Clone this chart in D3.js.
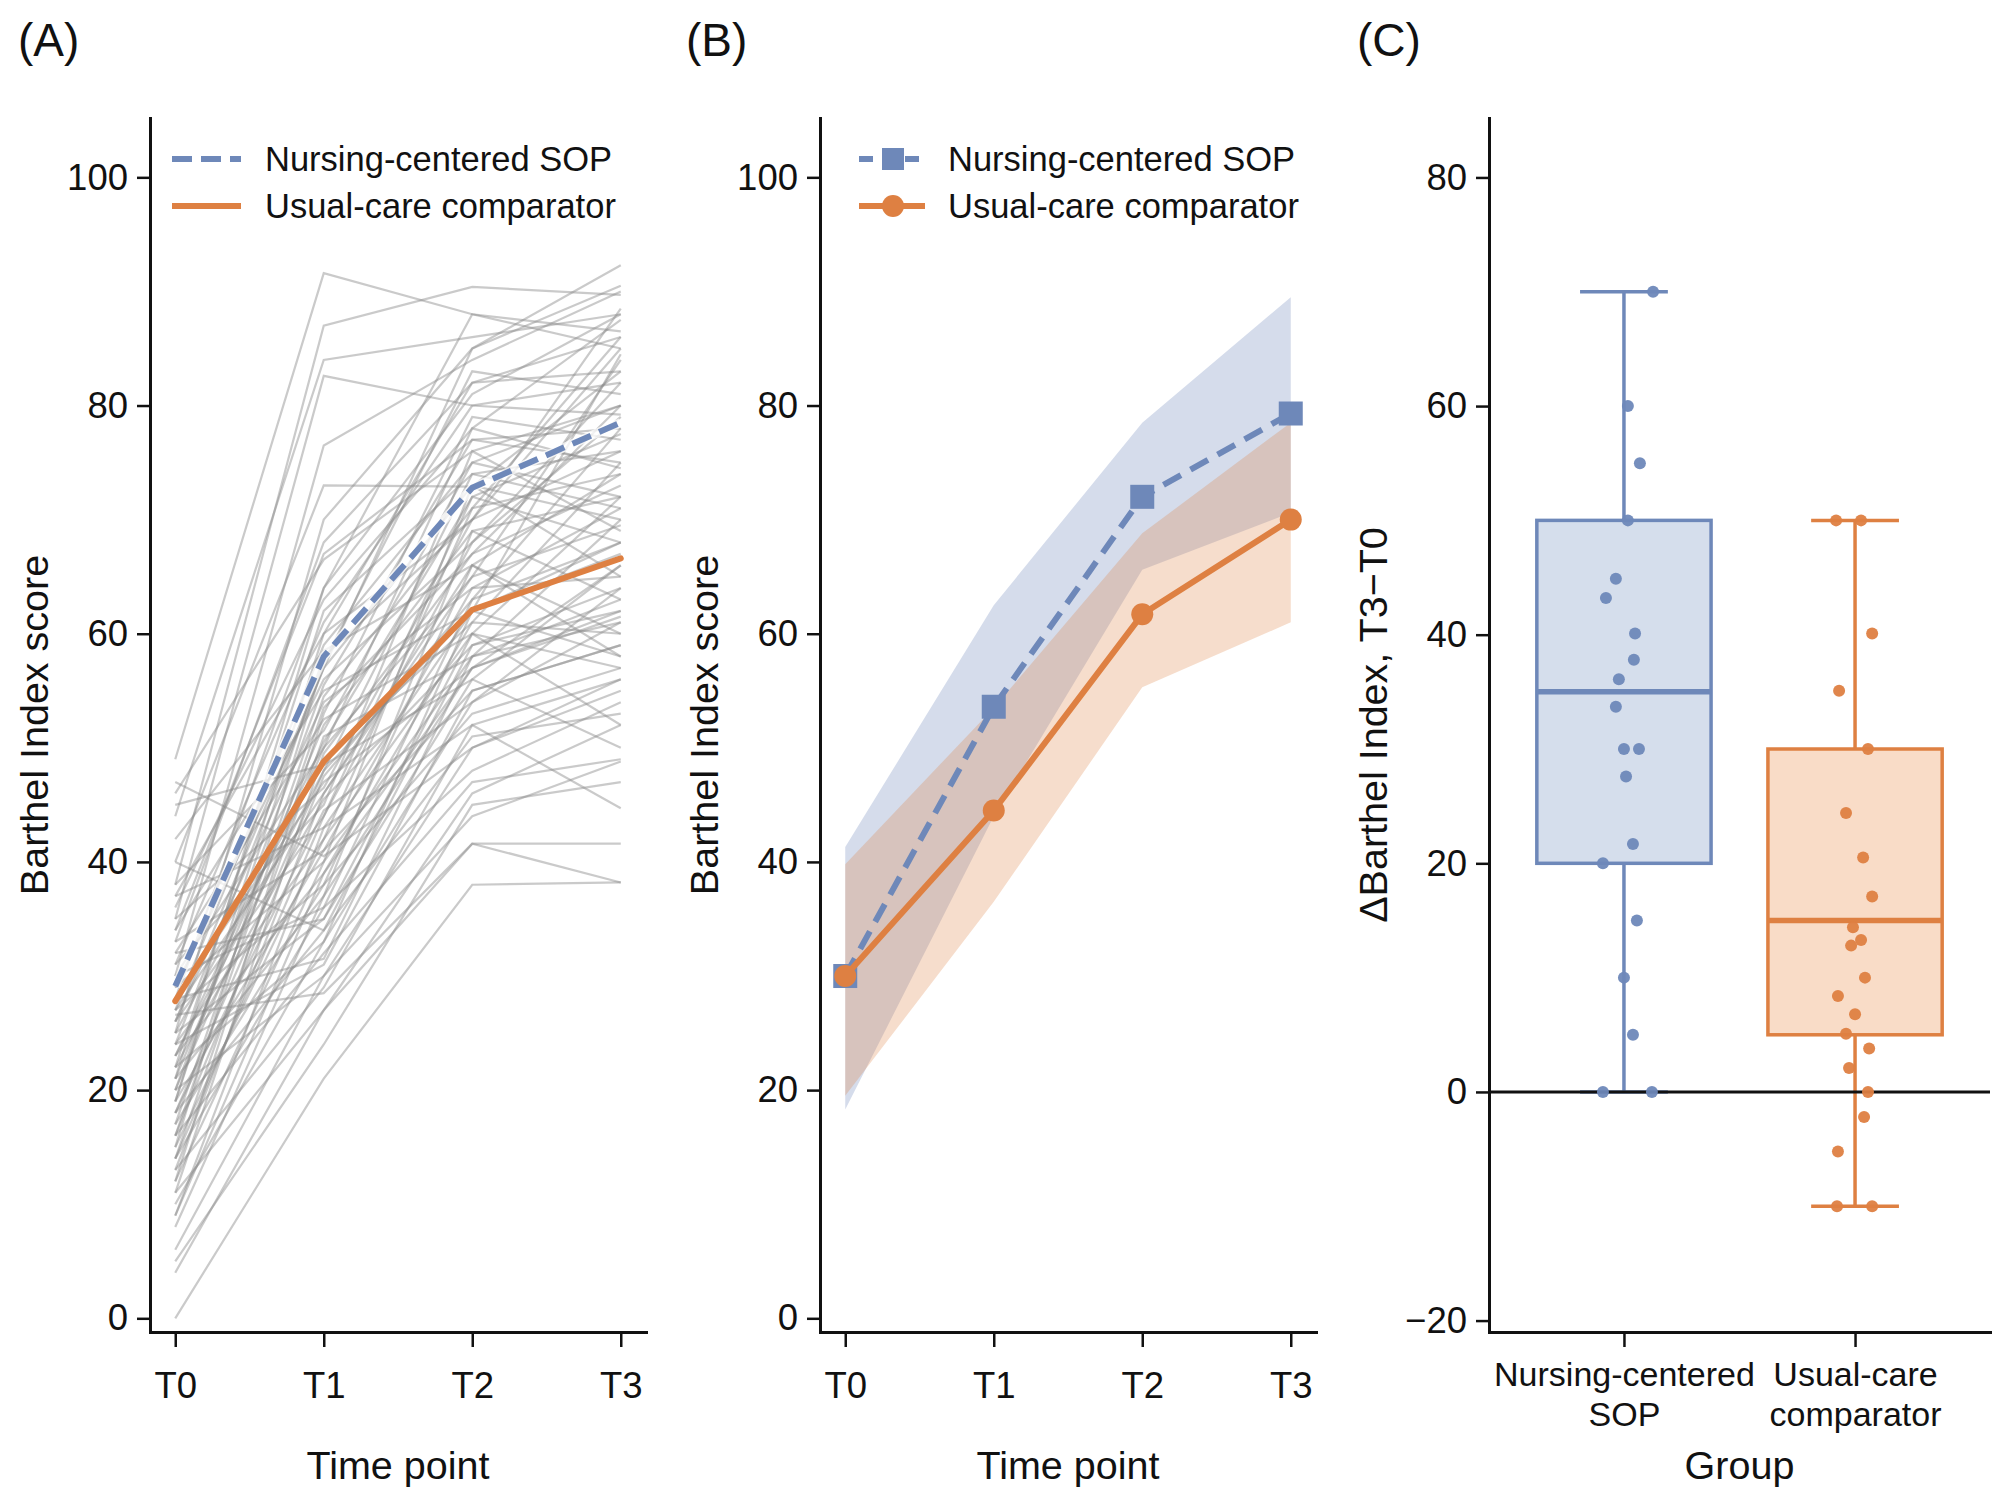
<!DOCTYPE html>
<html>
<head>
<meta charset="utf-8">
<script src="https://cdn.jsdelivr.net/npm/d3@7"></script>
<style>
    body { margin: 0; background: #ffffff; }
    text { font-family: "Liberation Sans", Arial, Helvetica, sans-serif; fill: #111111; }
</style>
</head>
<body>
<svg id="figure" width="2000" height="1493"></svg>
<script>
// ---------- data ----------
const timePoints = ["T0", "T1", "T2", "T3"];
const scoreTicks = [0, 20, 40, 60, 80, 100];
const deltaTicks = [-20, 0, 20, 40, 60, 80];

// Panel A: individual trajectories [T0, T1, T2, T3]
const individualScores = [
    [49, 91.6, 88.0, 86.5], [38, 87.0, 90.4, 89.7], [44, 84.0, 86.0, 88.0],
    [35, 82.6, 80.0, 79.2], [30, 76.5, 84.0, 90.0], [40, 73.0, 72.9, 83.0],
    [25, 70.0, 85.0, 92.3], [33, 68.0, 82.0, 86.0], [46, 66.5, 76.0, 80.0],
    [28, 64.0, 88.0, 85.0], [36, 63.0, 78.0, 87.5], [22, 62.0, 74.0, 76.0],
    [31, 61.0, 80.0, 82.0], [19, 60.0, 70.0, 88.5], [27, 59.0, 75.0, 72.0],
    [42, 58.5, 66.0, 74.0], [15, 57.5, 83.0, 81.0], [24, 57.0, 73.0, 70.0],
    [29, 56.0, 68.0, 79.0], [20, 55.5, 77.0, 75.0], [34, 55.0, 62.0, 68.0],
    [17, 54.5, 71.0, 86.0], [26, 54.0, 64.0, 65.0], [12, 53.0, 79.0, 77.0],
    [32, 52.5, 60.0, 72.0], [21, 52.0, 69.0, 63.0], [38, 51.5, 75.0, 80.0],
    [14, 51.0, 58.0, 70.0], [23, 50.5, 72.0, 68.0], [30, 50.0, 65.0, 84.0],
    [11, 49.5, 67.0, 73.0], [25, 49.0, 61.0, 60.0], [45, 48.5, 56.0, 66.0],
    [18, 48.0, 74.0, 71.0], [16, 47.5, 63.0, 78.0], [28, 47.0, 57.0, 62.0],
    [35, 46.5, 70.0, 76.0], [13, 46.0, 66.0, 58.0], [22, 45.5, 59.0, 64.0],
    [31, 45.0, 76.0, 69.0], [18, 44.5, 54.0, 61.0], [26, 44.0, 68.0, 82.0],
    [9, 43.0, 62.0, 67.0], [37, 43.0, 52.0, 56.0], [24, 42.0, 71.0, 74.0],
    [15, 42.0, 60.0, 52.0], [33, 41.0, 64.0, 71.0], [19, 41.0, 55.0, 59.0],
    [29, 40.0, 73.0, 65.0], [12, 40.0, 58.0, 63.0], [47, 40.5, 50.0, 55.0],
    [23, 39.0, 61.0, 75.0], [17, 38.0, 66.0, 60.0], [27, 38.0, 53.0, 57.0],
    [8, 37.0, 57.0, 66.0], [21, 37.0, 69.0, 72.0], [30, 36.0, 48.0, 54.0],
    [14, 36.0, 63.0, 68.0], [25, 35.0, 56.0, 50.0], [18, 34.0, 59.0, 62.0],
    [40, 34.0, 51.0, 53.0], [10, 33.0, 54.0, 64.0], [22, 33.0, 62.0, 58.0],
    [16, 32.0, 47.0, 49.0], [28, 31.5, 58.0, 61.0], [6, 30.0, 50.0, 56.0],
    [20, 30.0, 44.0, 48.8], [13, 29.0, 52.0, 44.7], [26.6, 28.5, 41.6, 41.6],
    [4, 27.0, 41.6, 38.2], [0, 21.0, 38.0, 38.2], [5, 24.0, 45.0, 47.0],
    [11, 27.0, 46.0, 52.0], [24, 31.0, 55.0, 59.0], [32, 35.0, 60.0, 57.0],
    [26, 57.0, 85.0, 90.5], [21, 64.0, 81.0, 88.0], [34, 67.0, 77.0, 78.0],
    [37, 60.0, 82.0, 83.0], [19, 58.0, 70.0, 85.0], [16, 53.5, 67.0, 80.0],
    [20, 50.0, 78.0, 74.5], [27, 46.0, 65.0, 69.5], [14, 44.0, 72.0, 77.5],
    [23, 48.0, 62.0, 84.5], [9, 39.0, 57.0, 61.5]
];
const sopTrendA = [29.1, 58.0, 72.8, 78.5];
const usualTrendA = [27.8, 48.8, 62.1, 66.6];

// Panel B: group means with shaded bands
const sopMean = [30.0, 53.6, 72.0, 79.3];
const sopLow = [18.3, 44.0, 65.6, 70.6];
const sopHigh = [41.3, 62.5, 78.5, 89.5];
const usualMean = [30.0, 44.5, 61.7, 70.0];
const usualLow = [19.5, 36.5, 55.3, 61.0];
const usualHigh = [39.8, 53.5, 68.8, 78.5];

// Panel C: change scores, jitter offsets (in category units) and box summaries
const groupNames = ["Nursing-centered SOP", "Usual-care comparator"];
const groupLabels = [["Nursing-centered", "SOP"], ["Usual-care", "comparator"]];
const sopDelta = [70, 60, 55, 50, 44.9, 43.2, 40.1, 37.8, 36.1, 33.7,
    30, 30, 27.6, 21.7, 20, 15, 10, 5, 0, 0];
const sopJitter = [0.126, 0.017, 0.069, 0.017, -0.035, -0.078, 0.048, 0.043, -0.022, -0.035,
    0, 0.065, 0.009, 0.039, -0.091, 0.056, 0, 0.039, -0.091, 0.121];
const usualDelta = [50, 50, 40.1, 35.1, 30, 24.4, 20.5, 17.1, 14.4, 13.3, 12.8,
    10, 8.4, 6.8, 5.1, 3.8, 2.1, 0, -2.2, -5.2, -10, -10];
const usualJitter = [-0.082, 0.026, 0.074, -0.069, 0.056, -0.039, 0.035, 0.074, -0.009, 0.026, -0.017,
    0.043, -0.074, 0, -0.039, 0.061, -0.026, 0.056, 0.039, -0.074, -0.078, 0.074];
const boxLow = [0, -10];
const boxQ1 = [20, 5];
const boxMedian = [35, 15];
const boxQ3 = [50, 30];
const boxHigh = [70, 50];

// ---------- styling ----------
const blue = "#6e88b9";
const orange = "#de8042";
const blueFill = "#d5deec";
const orangeFill = "#f9dcc7";

const plotTop = 118;
const plotBottom = 1332;
const panelLeft = { A: 150, B: 820, C: 1489 };

const svg = d3.select("#figure");
svg.append("rect").attr("width", 2000).attr("height", 1493).attr("fill", "#ffffff");

const yScore = d3.scaleLinear().domain([-1.2, 105.2]).range([plotBottom, plotTop]);
const yDelta = d3.scaleLinear().domain([-21, 85.2]).range([plotBottom, plotTop]);

function timeScale(left) {
    return d3.scaleLinear().domain([-0.17, 3.17]).range([left, left + 496]);
}

// Axes with black spines, outward ticks
function drawAxes(g, x, y, xTicks, xFormat, yTicks) {
    const xAxis = g.append("g")
        .attr("transform", `translate(0,${plotBottom})`)
        .call(d3.axisBottom(x).tickValues(xTicks).tickFormat(xFormat)
            .tickSize(15).tickSizeOuter(0).tickPadding(25));
    const yAxis = g.append("g")
        .attr("transform", `translate(${x.range()[0]},0)`)
        .call(d3.axisLeft(y).tickValues(yTicks).tickSize(13).tickSizeOuter(0).tickPadding(9));

    [xAxis, yAxis].forEach((ax) => {
        ax.select(".domain").attr("stroke", "#111").attr("stroke-width", 3)
            .attr("stroke-linecap", "square");
        ax.selectAll(".tick line").attr("stroke", "#111").attr("stroke-width", 2.5);
        ax.selectAll(".tick text").attr("font-size", 36.5).attr("fill", "#111");
    });
    return xAxis;
}

function axisTitles(g, left, right, xTitle, yTitle) {
    g.append("text")
        .attr("x", (left + right) / 2).attr("y", 1479)
        .attr("text-anchor", "middle").attr("font-size", 39.5)
        .text(xTitle);
    g.append("text")
        .attr("transform", `translate(${left - 102},${(plotTop + plotBottom) / 2}) rotate(-90)`)
        .attr("text-anchor", "middle").attr("font-size", 39.5)
        .text(yTitle);
}

function panelLabel(x, label) {
    svg.append("text").attr("x", x).attr("y", 56).attr("font-size", 46).text(label);
}

// ---------- Panel A: spaghetti plot ----------
{
    const g = svg.append("g").attr("id", "panelA");
    const x = timeScale(panelLeft.A);
    const line = d3.line().x((d, i) => x(i)).y((d) => yScore(d));

    g.append("g").selectAll("path")
        .data(individualScores)
        .enter()
        .append("path")
        .attr("d", line)
        .attr("fill", "none")
        .attr("stroke", "#8a8a8a")
        .attr("stroke-opacity", 0.45)
        .attr("stroke-width", 2.2);

    // Group trend lines
    g.append("path").attr("d", line(sopTrendA))
        .attr("fill", "none").attr("stroke", "#ffffff").attr("stroke-opacity", 0.75)
        .attr("stroke-width", 9);
    g.append("path").attr("d", line(sopTrendA))
        .attr("fill", "none").attr("stroke", blue).attr("stroke-width", 6)
        .attr("stroke-dasharray", "20,9");
    g.append("path").attr("d", line(usualTrendA))
        .attr("fill", "none").attr("stroke", orange).attr("stroke-width", 6)
        .attr("stroke-linecap", "round");

    drawAxes(g, x, yScore, [0, 1, 2, 3], (i) => timePoints[i], scoreTicks);
    axisTitles(g, panelLeft.A, panelLeft.A + 496, "Time point", "Barthel Index score");

    // Legend
    const lx = panelLeft.A;
    const legend = g.append("g");
    legend.append("line").attr("x1", lx + 22).attr("x2", lx + 91).attr("y1", 159).attr("y2", 159)
        .attr("stroke", blue).attr("stroke-width", 6).attr("stroke-dasharray", "20,9");
    legend.append("line").attr("x1", lx + 22).attr("x2", lx + 91).attr("y1", 206).attr("y2", 206)
        .attr("stroke", orange).attr("stroke-width", 6);
    legend.selectAll("text").data(groupNames).enter().append("text")
        .attr("x", lx + 115).attr("y", (d, i) => 159 + i * 47).attr("dy", "0.35em")
        .attr("font-size", 34.5).text((d) => d);
}

// ---------- Panel B: means with bands ----------
{
    const g = svg.append("g").attr("id", "panelB");
    const x = timeScale(panelLeft.B);
    const band = (low, high) => d3.area()
        .x((d, i) => x(i)).y0((d, i) => yScore(low[i])).y1((d, i) => yScore(high[i]))(low);
    const line = d3.line().x((d, i) => x(i)).y((d) => yScore(d));

    g.append("path").attr("d", band(sopLow, sopHigh)).attr("fill", blue).attr("fill-opacity", 0.29);
    g.append("path").attr("d", band(usualLow, usualHigh)).attr("fill", orange).attr("fill-opacity", 0.27);

    g.append("path").attr("d", line(sopMean))
        .attr("fill", "none").attr("stroke", blue).attr("stroke-width", 6)
        .attr("stroke-dasharray", "20,11");
    g.append("g").selectAll("rect").data(sopMean).enter().append("rect")
        .attr("x", (d, i) => x(i) - 12).attr("y", (d) => yScore(d) - 12)
        .attr("width", 24).attr("height", 24).attr("fill", blue);

    g.append("path").attr("d", line(usualMean))
        .attr("fill", "none").attr("stroke", orange).attr("stroke-width", 6);
    g.append("g").selectAll("circle").data(usualMean).enter().append("circle")
        .attr("cx", (d, i) => x(i)).attr("cy", (d) => yScore(d)).attr("r", 11)
        .attr("fill", orange);

    drawAxes(g, x, yScore, [0, 1, 2, 3], (i) => timePoints[i], scoreTicks);
    axisTitles(g, panelLeft.B, panelLeft.B + 496, "Time point", "Barthel Index score");

    // Legend with markers
    const lx = panelLeft.B;
    const legend = g.append("g");
    legend.append("line").attr("x1", lx + 39).attr("x2", lx + 105).attr("y1", 159).attr("y2", 159)
        .attr("stroke", blue).attr("stroke-width", 6).attr("stroke-dasharray", "14,9");
    legend.append("rect").attr("x", lx + 73 - 11).attr("y", 159 - 11).attr("width", 22).attr("height", 22)
        .attr("fill", blue);
    legend.append("line").attr("x1", lx + 39).attr("x2", lx + 105).attr("y1", 206).attr("y2", 206)
        .attr("stroke", orange).attr("stroke-width", 6);
    legend.append("circle").attr("cx", lx + 73).attr("cy", 206).attr("r", 11).attr("fill", orange);
    legend.selectAll("text").data(groupNames).enter().append("text")
        .attr("x", lx + 128).attr("y", (d, i) => 159 + i * 47).attr("dy", "0.35em")
        .attr("font-size", 34.5).text((d) => d);
}

// ---------- Panel C: box plot of change scores ----------
{
    const g = svg.append("g").attr("id", "panelC");
    const x = d3.scaleLinear().domain([-0.584, 1.584]).range([panelLeft.C, 1990]);
    const colors = [blue, orange];
    const fills = [blueFill, orangeFill];
    const halfBox = 0.377;
    const halfCap = 0.19;

    [0, 1].forEach((i) => {
        const bg = g.append("g");
        const cx = x(i);
        const bw = x(i + halfBox) - cx;
        const cw = x(i + halfCap) - cx;
        bg.append("line").attr("x1", cx).attr("x2", cx)
            .attr("y1", yDelta(boxQ3[i])).attr("y2", yDelta(boxHigh[i]))
            .attr("stroke", colors[i]).attr("stroke-width", 3.5);
        bg.append("line").attr("x1", cx).attr("x2", cx)
            .attr("y1", yDelta(boxQ1[i])).attr("y2", yDelta(boxLow[i]))
            .attr("stroke", colors[i]).attr("stroke-width", 3.5);
        [boxHigh[i], boxLow[i]].forEach((v) => {
            bg.append("line").attr("x1", cx - cw).attr("x2", cx + cw)
                .attr("y1", yDelta(v)).attr("y2", yDelta(v))
                .attr("stroke", colors[i]).attr("stroke-width", 3.5);
        });
        bg.append("rect")
            .attr("x", cx - bw).attr("width", 2 * bw)
            .attr("y", yDelta(boxQ3[i])).attr("height", yDelta(boxQ1[i]) - yDelta(boxQ3[i]))
            .attr("fill", fills[i]).attr("stroke", colors[i]).attr("stroke-width", 3.5);
        bg.append("line").attr("x1", cx - bw).attr("x2", cx + bw)
            .attr("y1", yDelta(boxMedian[i])).attr("y2", yDelta(boxMedian[i]))
            .attr("stroke", colors[i]).attr("stroke-width", 5.5);
    });

    // Zero reference line
    g.append("line").attr("x1", panelLeft.C).attr("x2", 1990)
        .attr("y1", yDelta(0)).attr("y2", yDelta(0))
        .attr("stroke", "#111").attr("stroke-width", 3);

    // Jittered individual points
    const points = sopDelta.map((v, k) => ({ g: 0, v, j: sopJitter[k] }))
        .concat(usualDelta.map((v, k) => ({ g: 1, v, j: usualJitter[k] })));
    g.append("g").selectAll("circle").data(points).enter().append("circle")
        .attr("cx", (d) => x(d.g + d.j)).attr("cy", (d) => yDelta(d.v)).attr("r", 6)
        .attr("fill", (d) => colors[d.g]).attr("fill-opacity", 0.95);

    const xAxis = drawAxes(g, x, yDelta, [0, 1], (i) => groupNames[i], deltaTicks);
    // Two-line category labels
    xAxis.selectAll(".tick text").each(function (d) {
        const t = d3.select(this).text(null).attr("dy", null).attr("y", null)
            .attr("font-size", 34);
        groupLabels[d].forEach((part, k) => {
            t.append("tspan").attr("x", 0).attr("y", 54 + k * 40).text(part);
        });
    });
    axisTitles(g, panelLeft.C, 1990, "Group", "ΔBarthel Index, T3−T0");
}

panelLabel(18, "(A)");
panelLabel(686, "(B)");
panelLabel(1357, "(C)");
</script>
</body>
</html>
